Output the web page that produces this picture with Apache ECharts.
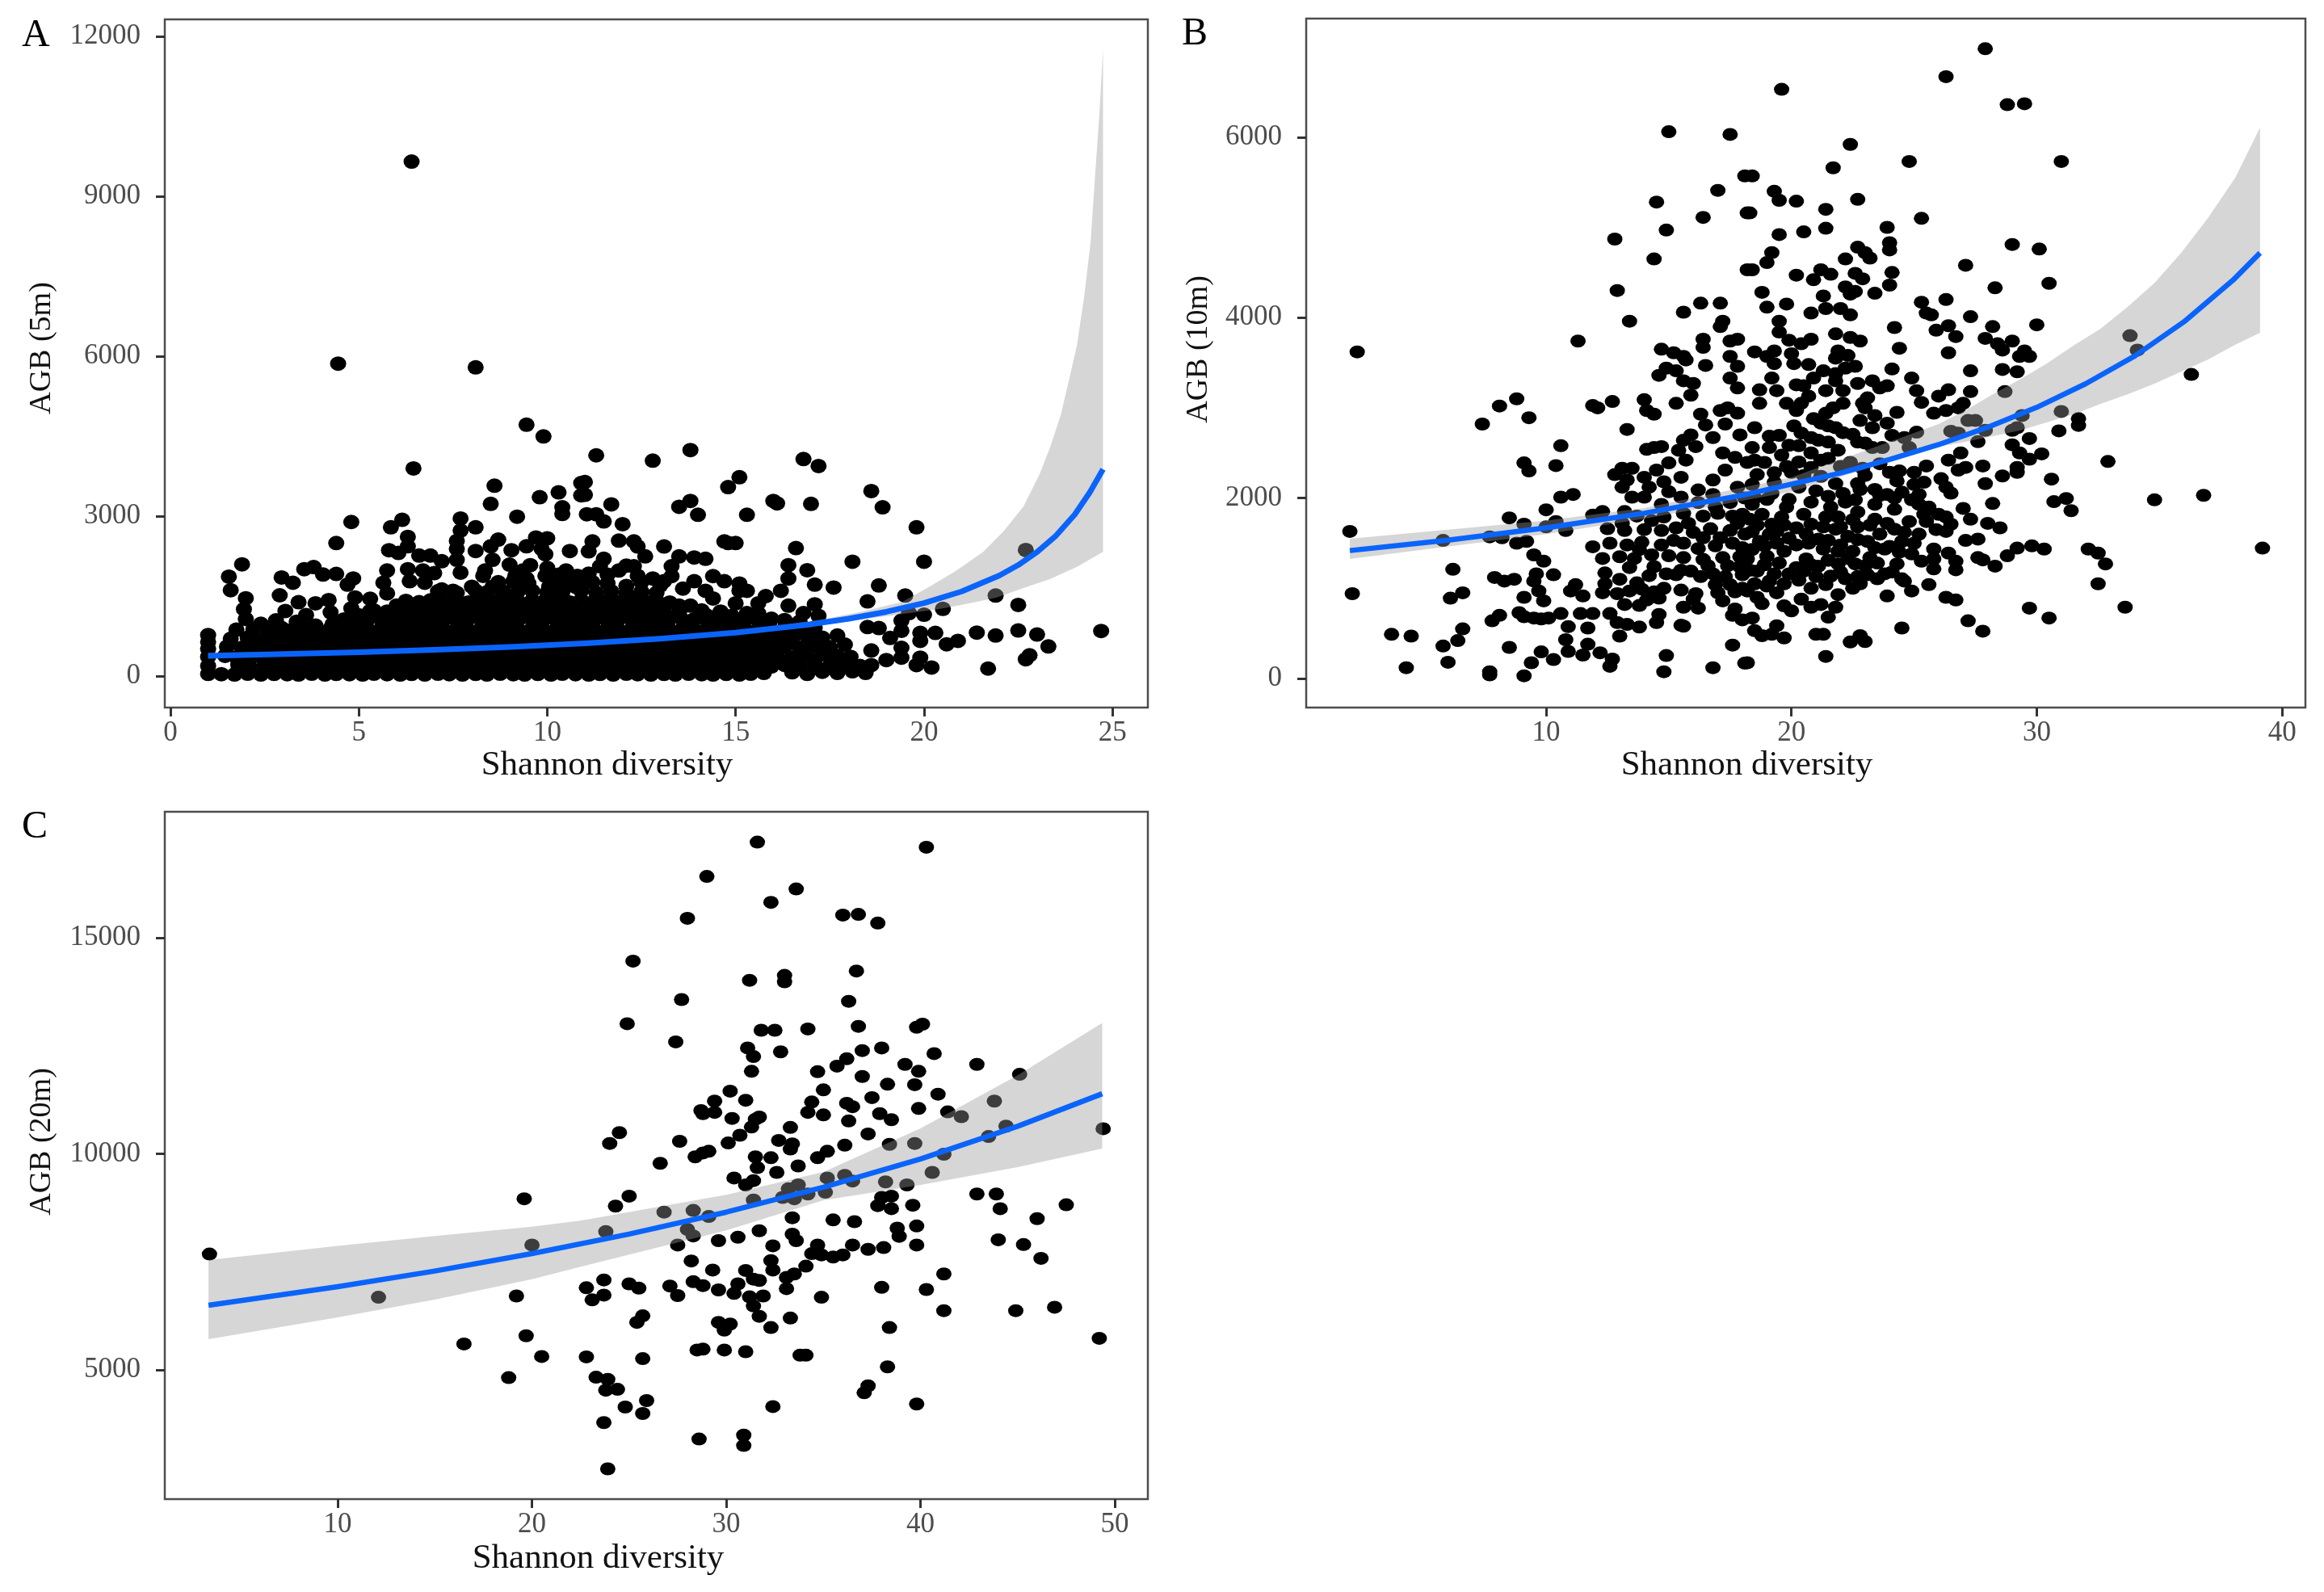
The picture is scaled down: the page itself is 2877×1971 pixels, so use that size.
<!DOCTYPE html>
<html><head><meta charset="utf-8">
<style>html,body{margin:0;padding:0;background:#fff}#c{width:2877px;height:1971px}</style>
<script src="https://cdn.jsdelivr.net/npm/echarts@6/dist/echarts.min.js"></script>
</head><body><div id="c"></div>
<script>
const xTitle='Shannon diversity';
const titleA='AGB (5m)',titleB='AGB (10m)',titleC='AGB (20m)';
const xTicksA=[0,5,10,15,20,25],yTicksA=[0,3000,6000,9000,12000];
const xTicksB=[10,20,30,40],yTicksB=[0,2000,4000,6000];
const xTicksC=[10,20,30,40,50],yTicksC=[5000,10000,15000];

const lineA=[[1,380],[3,412],[5,448],[7,493],[9,546],[11,613],[13,699],[15,813],[17,971],[18,1075],[19,1205],[20,1370],[21,1587],[22,1887],[22.5,2083],[23,2326],[23.5,2632],[24,3030],[24.4,3448],[24.75,3880]];
const upperA=[[1,440],[5,470],[10,605],[15,840],[17.28,1060],[18.35,1210],[19.42,1390],[20.13,1670],[20.84,1970],[21.57,2330],[22.13,2730],[22.64,3180],[23.07,3790],[23.35,4300],[23.63,4900],[23.85,5560],[24.06,6212],[24.25,7120],[24.42,8136],[24.55,9500],[24.65,10500],[24.75,11760]];
const lowerA=[[1,330],[5,430],[10,575],[15,790],[17.28,950],[18.35,1060],[19.77,1195],[20.5,1270],[21.2,1365],[21.91,1470],[22.64,1650],[23.35,1820],[24.06,2050],[24.75,2330]];
const lineB=[[2,1418],[6,1534],[10,1670],[14,1832],[18,2031],[22,2278],[24,2427],[26,2592],[28,2785],[30,3005],[32,3268],[34,3576],[36,3953],[38,4415],[39.1,4717]];
const upperB=[[2,1548],[10,1750],[14,1890],[20,2230],[26,2820],[27.1,2972],[28.2,3150],[29.3,3312],[30.4,3490],[31.5,3690],[32.6,3877],[33.7,4118],[34.8,4385],[35.88,4715],[36.97,5100],[38.09,5550],[39.1,6105]];
const lowerB=[[2,1325],[10,1600],[14,1770],[20,2070],[26,2570],[27.1,2623],[28.2,2686],[29.3,2748],[30.4,2838],[31.5,2927],[32.6,3043],[33.7,3150],[34.8,3268],[35.88,3400],[36.97,3535],[38.09,3700],[39.1,3832]];
const lineC=[[3.35,6495],[10,6925],[15,7287],[20,7692],[25,8143],[30,8650],[35,9225],[40,9881],[45,10638],[49.35,11390]];
const upperC=[[3.35,7540],[10,7870],[15,8100],[20,8315],[22.56,8458],[30,9050],[35,9580],[40,10590],[45,11820],[49.35,13030]];
const lowerC=[[3.35,5710],[10,6215],[15,6625],[20,7100],[22.56,7390],[30,8230],[35,8925],[40,9280],[45,9690],[49.35,10120]];

const pointsAOuter=[[6.4,9650],[4.45,5860],[8.1,5790],[6.45,3895],[9.45,4715],[9.9,4495],[11.3,4140],[12.8,4040],[13.8,4240],[16.8,4070],[17.2,3940],[15.1,3730],[14.8,3545],[11,3640],[11,3400],[11.7,3220],[11.3,3035],[11.5,2900],[11.05,3035],[12,2850],[13.5,3175],[13.8,3285],[14,3025],[15.3,3025],[16,3285],[16.1,3240],[17,3230],[18.6,3470],[18.9,3165],[19.8,2790],[20,2145],[18.1,2145],[16.6,2400],[16.4,2080],[16.9,1985],[16.4,1830],[17.1,1715],[17.6,1660],[18.8,1700],[18.5,1400],[19.5,1510],[22.7,2365],[21.9,1510],[22.5,1335],[20.5,1260],[20,1150],[19.6,1180],[19.4,1040],[19.4,850],[19.9,810],[20.3,810],[19.9,660],[20.6,595],[20.9,660],[21.4,815],[21.9,760],[22.5,855],[23,780],[23.3,555],[22.8,390],[22.7,315],[21.7,140],[24.7,845],[20.2,160],[19.8,205],[19.9,345],[19.4,530],[19.4,345],[19,300],[19.1,715],[18.8,900],[18.5,920],[18.6,480],[18.4,110],[18.6,205],
[14.8,2495],[14.7,2525],[15,2495],[13.1,2430],[11.2,2525],[11.1,2340],[11.9,2540],[12.3,2525],[12.4,2430],[12.6,2245],[11.5,2200],[11.4,2060],[12.3,2060],[13.5,2245],[13.9,2225],[14.2,2200],[13.3,2060],[13.3,1875],[13.9,1780],[13.6,1640],[13.1,1780],[14.4,1875],[14.7,1780],[15.1,1735],[15.3,1600],[15.1,1600],[16.2,1600],[15.8,1500],[15.6,1365],[17.1,1345],[14.2,1600],[14.4,1455],[15,1365],[15.3,1180],[15.6,1180],[16.4,1320],[16.8,1180],[17.2,1130],[13.8,1320],[13.5,1320],
[8.6,3570],[8.5,3230],[9.8,3355],[10.3,3445],[9.2,2990],[10.4,3165],[10.4,3040],[10.9,3620],[10.9,3390],[6.15,2930],[5.85,2790],[4.8,2890],[4.4,2495],[7.7,2955],[8.1,2790],[7.7,2730],[6.3,2610],[5.8,2360],[6.05,2310],[6.3,2435],[7.6,2535],[7.6,2385],[7.6,2180],[8.7,2560],[9.7,2600],[10,2585],[10.6,2345],[8.1,2345],[8.5,2435],[9.45,2435],[6.6,2260],[6.9,2260],[7.2,2155],[9.05,2360],[9.85,2385],[9.95,2285],[9,2090],[7.7,1940],[6.3,2005],[5.75,1980],[6.7,1980],[8.3,1880],[8.55,2180],[10,2030],[9.55,2080],[10.5,1980],[10.8,1880],[7,1930],[5.65,1750],[6.35,1780],[6.75,1750],[4.85,1830],[4.7,1715],[5.75,1550],[4.4,1915],[4.05,1905],[3.8,2045],[3.55,2005],[3.25,1750],[2.95,1850],[2.9,1515],[1.9,2095],[1.55,1865],[1.6,1610],[2,1460],[3.4,1385],[3.85,1365],[4.2,1425],[1.95,1255],[3.05,1220],[2.8,1045],[3.6,1145],[2,1070],[2.4,980],[1.75,870],[3.35,1020],[3.85,945],[4.3,970],[4.25,1195],[1,770],[1,640],[4.9,1475],[5.3,1450],[4.8,1270],[5.3,1220],[7.2,1625],[8,1675],[7.5,1600],[8.35,1980],[8.55,1675],[9.15,1880],[9.45,1830],[9.95,1880],[10.05,1675],[10.75,1675],[9.25,1625],[8.85,1575],[11.6,1900],[12.4,1880],[12.8,1830],[11.2,1760],[12.1,1690],
[7.1,1590],[7.6,1560],[8.1,1600],[8.4,1570],[8.8,1590],[9.2,1560],[9.6,1600],[10,1570],[8.7,1760],[9.1,1780],[9.5,1740],[10.2,1770],[10.5,1750],[11,1740],[11.6,1740],[12.5,1760],[13,1700],[9.35,1980],[10.3,1900],[11.1,1920],[11.9,1980],[12.1,2070],[13.5,1200],[14.3,1110]];

const pointsADense=[
[1,40],[1.35,35],[1.7,30],[2.05,45],[2.4,30],[2.75,40],[3.1,35],[3.4,30],[3.75,45],[4.1,30],[4.4,40],[4.75,35],[5.1,30],[5.4,45],[5.75,35],[6.1,30],[6.4,40],[6.75,30],[7.1,45],[7.4,35],[7.75,30],[8.1,40],[8.4,30],[8.75,45],[9.1,35],[9.4,30],[9.75,40],[10.1,30],[10.4,45],[10.75,35],[11.1,30],[11.4,40],[11.75,30],[12.1,45],[12.4,35],[12.75,30],[13.1,40],[13.4,30],[13.75,45],[14.1,35],[14.4,30],[14.75,40],[15.1,30],[15.4,45],[15.75,60],[16.5,70],[16.9,40],[17.3,80],[17.7,60],[18.1,90],[18.45,60],
[1,190],[1.8,210],[2.1,180],[2.5,200],[2.85,220],[3.2,185],[3.55,205],[3.9,175],[4.25,215],[4.6,190],[4.9,205],[5.25,180],[5.6,220],[5.95,190],[6.25,200],[6.6,175],[6.9,215],[7.25,190],[7.6,205],[7.9,180],[8.25,220],[8.6,190],[8.9,200],[9.25,175],[9.6,215],[9.9,190],[10.25,205],[10.6,180],[10.9,220],[11.25,190],[11.6,200],[11.9,175],[12.25,215],[12.6,190],[12.9,205],[13.25,180],[13.6,220],[13.9,190],[14.25,200],[14.6,175],[14.9,215],[15.25,190],[15.6,205],[15.95,180],[16.3,210],[16.7,190],[17.1,230],[17.5,200],[17.9,240],[18.3,190],
[1,360],[1.45,380],[1.75,350],[2.05,390],[2.4,360],[2.75,375],[3.1,345],[3.4,385],[3.75,360],[4.1,370],[4.4,350],[4.75,390],[5.1,360],[5.4,375],[5.75,345],[6.1,385],[6.4,360],[6.75,370],[7.1,350],[7.4,390],[7.75,360],[8.1,375],[8.4,345],[8.75,385],[9.1,360],[9.4,370],[9.75,350],[10.1,390],[10.4,360],[10.75,375],[11.1,345],[11.4,385],[11.75,360],[12.1,370],[12.4,350],[12.75,390],[13.1,360],[13.4,375],[13.75,345],[14.1,385],[14.4,360],[14.75,370],[15.1,350],[15.4,390],[15.75,360],[16.1,375],[16.5,345],[16.9,385],[17.3,410],[17.7,380],[18.05,360],
[1,510],[1.5,550],[1.9,530],[2.2,560],[2.55,520],[2.9,545],[3.25,530],[3.6,565],[3.9,525],[4.25,550],[4.6,535],[4.9,560],[5.25,520],[5.6,545],[5.95,530],[6.25,565],[6.6,525],[6.9,550],[7.25,535],[7.6,560],[7.9,520],[8.25,545],[8.6,530],[8.9,565],[9.25,525],[9.6,550],[9.9,535],[10.25,560],[10.6,520],[10.9,545],[11.25,530],[11.6,565],[11.9,525],[12.25,550],[12.6,535],[12.9,560],[13.25,520],[13.6,545],[13.9,530],[14.25,565],[14.6,525],[14.9,550],[15.25,535],[15.6,560],[15.95,520],[16.3,545],[16.7,530],[17.1,570],[17.5,540],[17.9,590],
[1.6,700],[2.05,720],[2.4,690],[2.75,730],[3.1,705],[3.4,715],[3.75,695],[4.1,735],[4.4,700],[4.75,720],[5.1,690],[5.4,730],[5.75,705],[6.1,715],[6.4,695],[6.75,735],[7.1,700],[7.4,720],[7.75,690],[8.1,730],[8.4,705],[8.75,715],[9.1,695],[9.4,735],[9.75,700],[10.1,720],[10.4,690],[10.75,730],[11.1,705],[11.4,715],[11.75,695],[12.1,735],[12.4,700],[12.75,720],[13.1,690],[13.4,730],[13.75,705],[14.1,715],[14.4,695],[14.75,735],[15.1,700],[15.4,720],[15.75,690],[16.1,730],[16.5,705],[16.9,740],[17.3,720],[17.7,760],
[2.2,880],[2.6,860],[2.95,900],[3.25,870],[3.6,890],[3.9,860],[4.25,895],[4.6,875],[4.9,885],[5.25,865],[5.6,900],[5.95,870],[6.25,890],[6.6,860],[6.9,895],[7.25,875],[7.6,885],[7.9,865],[8.25,900],[8.6,870],[8.9,890],[9.25,860],[9.6,895],[9.9,875],[10.25,885],[10.6,865],[10.9,900],[11.25,870],[11.6,890],[11.9,860],[12.25,895],[12.6,875],[12.9,885],[13.25,865],[13.6,900],[13.9,870],[14.25,890],[14.6,860],[14.9,895],[15.25,875],[15.6,885],[15.95,865],[16.3,900],[16.7,880],[17.1,910],
[4.6,1060],[4.9,1040],[5.25,1075],[5.6,1050],[5.95,1065],[6.25,1035],[6.6,1070],[6.9,1050],[7.25,1060],[7.6,1040],[7.9,1075],[8.25,1050],[8.6,1065],[8.9,1035],[9.25,1070],[9.6,1050],[9.9,1060],[10.25,1040],[10.6,1075],[10.9,1050],[11.25,1065],[11.6,1035],[11.9,1070],[12.25,1050],[12.6,1060],[12.9,1040],[13.25,1075],[13.6,1050],[13.9,1065],[14.25,1035],[14.6,1070],[14.9,1050],[15.25,1060],[15.6,1040],[15.95,1075],[16.3,1050],[16.7,1020],
[5.4,1230],[5.75,1210],[6.1,1245],[6.4,1220],[6.75,1235],[7.1,1205],[7.4,1240],[7.75,1215],[8.1,1230],[8.4,1210],[8.75,1245],[9.1,1220],[9.4,1235],[9.75,1205],[10.1,1240],[10.4,1215],[10.75,1230],[11.1,1210],[11.4,1245],[11.75,1220],[12.1,1235],[12.4,1205],[12.75,1240],[13.1,1215],[14.1,1230],[14.6,1210],
[6.25,1410],[6.6,1385],[6.9,1420],[7.25,1395],[7.6,1415],[7.9,1380],[8.25,1425],[8.6,1400],[8.9,1410],[9.25,1385],[9.6,1420],[9.9,1395],[10.25,1415],[10.6,1380],[10.9,1425],[11.25,1400],[11.6,1410],[11.9,1385],[12.25,1420],[12.6,1395],[12.9,1415],[13.25,1380],
[10.4,1570],[10.9,1600],[11.3,1560],[11.7,1590],[12.1,1550],[12.5,1585],[12.9,1560],
[2,280],[2.6,270],[3.3,290],[3.9,275],[4.5,285],[5.1,270],[5.8,290],[6.4,280],[7,265],[7.7,290],[8.3,275],[9,285],[9.5,270],[10.2,290],[10.8,280],[11.4,265],[12,290],[12.7,275],[13.3,285],[14,270],[14.6,290],[15.2,280],[15.9,265],[16.6,290],
[1.9,440],[2.5,460],[3.2,445],[3.8,455],[4.5,435],[5.2,460],[5.8,445],[6.5,450],[7.2,435],[7.8,460],[8.5,445],[9.2,455],[9.7,435],[10.5,460],[11.2,445],[11.9,455],[12.6,435],[13.2,460],[13.9,445],[14.6,450],[15.2,435],[15.9,460],[16.7,445],[17.5,450],
[2.3,630],[3,615],[3.7,640],[4.3,625],[5,635],[5.6,610],[6.3,640],[7,620],[7.6,630],[8.3,615],[9,640],[9.6,625],[10.3,635],[11,610],[11.6,640],[12.3,620],[13,630],[13.6,615],[14.3,640],[15,625],[15.6,635],[16.3,610],[17,640],
[2.8,795],[3.5,785],[4.2,805],[4.9,790],[5.5,800],[6.2,780],[6.9,810],[7.5,790],[8.2,800],[8.9,785],[9.5,805],[10.2,790],[10.8,800],[11.5,780],[12.2,810],[12.8,790],[13.5,800],[14.2,785],[14.8,805],[15.5,790],[16.2,800],[16.9,815],
[4.4,965],[5.1,950],[5.8,975],[6.4,960],[7.1,970],[7.8,945],[8.4,975],[9.1,955],[9.8,965],[10.4,950],[11.1,975],[11.8,960],[12.4,970],[13.1,945],[13.8,975],[14.4,955],[15.1,965],[15.8,950],[16.5,960],
[5,1140],[5.8,1150],[6.5,1130],[7.2,1155],[7.9,1140],[8.6,1150],[9.3,1130],[10,1155],[10.7,1140],[11.4,1150],[12.1,1130],[12.8,1155],[13.5,1140],[14.2,1150],[14.9,1130],
[6,1320],[6.8,1310],[7.5,1330],[8.3,1315],[9.1,1325],[9.8,1310],[10.6,1330],[11.4,1315],[12.2,1325],[13,1310]];

const pointsB=[[2,1630],[2.3,3620],[2.1,940],[3.7,490],[4.5,470],[4.3,120],[5.8,360],[6,180],[5.8,1530],[6.2,1210],[6.1,890],[6.6,950],[6.6,550],[6.4,420],[7.4,2820],[8.1,3020],[8.8,3100],[9.3,2890],[9.1,2390],[9.3,2300],[10.6,2580],[10.4,2360],[11.3,3740],[10.6,2010],[11.1,2040],[10,1870],[8.5,1780],[9.1,1710],[7.7,1570],[8.2,1560],[8.8,1500],[9.2,1520],[10,1680],[10.4,1740],[10.8,1640],[9.5,1370],[9.9,1300],[9.6,1160],[10.3,1150],[7.9,1120],[8.3,1080],[8.7,1100],[9.5,1080],[9.7,970],[11.2,1040],[11,970],[11.5,915],[9.1,900],[9.9,860],[8.9,730],[8.1,700],[7.8,640],[9.1,685],[9.5,670],[9.8,660],[10.1,670],[10.6,720],[10.9,575],[11.4,720],[11.9,720],[11.7,560],[12.6,720],[10.8,430],[11.7,380],[10.9,300],[11.5,260],[12.2,285],[8.5,345],[9.8,295],[9.4,175],[10.3,210],[12.7,215],[12.6,135],[7.7,75],[7.7,40],[9.1,30],[14.8,75],[14.9,255],[16.8,120],[17.6,370],[18.1,170],[11.9,1460],[11.9,3025],[12.1,3000],[12.7,3070],[14,3090],[14.1,2970],[14.4,2930],[13.3,2760],[12.8,4870],[12.9,4300],[13.4,3960],[14.4,4650],[14.5,5280],[14.9,4970],[15,6060],[17.5,6030],[17,5410],[16.4,5110],[15.6,4060],[16.3,4160],[17.1,4160],[18.1,5570],[18.2,5160],[18.2,4530],[14.7,3650],[15.2,3610],[15.6,3570],[15.7,3530],[16.4,3760],[16.4,3670],[16.5,3470],[14.6,3360],[14.9,3440],[15.3,3410],[15.6,3300],[16,3270],[15.9,3140],[15.3,3050],[17.2,3960],[17.1,3900],[17.5,3740],[17.8,3760],[17.5,3570],[17.8,3460],[17.5,3330],[17.8,3220],[16.3,2930],[17.1,2970],[17.4,3000],[17.3,2820],[17.8,2940],[17.9,2700],[15.9,2700],[15.6,2640],[16.1,2570],[16.8,2670],[16.5,2810],[15.4,2530],[14.7,2570],[14.4,2560],[14.1,2540],[17.2,2500],[17.7,2450],[15,2390],[15.7,2420],[14.5,2310],[13.1,2330],[13.5,2330],[12.8,2260],[13.3,2200],[13.1,2120],[14,2230],[15.5,2230],[14.2,2120],[13.5,2010],[14,2010],[14.8,2180],[15,2070],[15.5,2010],[16.2,2090],[16.8,2200],[17.3,2310],[17.8,2120],[16.8,2040],[14.7,1930],[13.2,1850],[12.3,1850],[11.9,1810],
[13.7,1800],[14.8,1790],[15.6,1830],[16.4,1800],[17,1830],[17.6,1800],[18,1820],[12.5,1660],[13.2,1640],[14,1650],[14.7,1640],[15.3,1670],[16,1620],[16.7,1660],[17.5,1640],[18.1,1600],[12.6,1500],[13.3,1480],[13.9,1510],[14.7,1480],[15.6,1500],[16.2,1440],[16.9,1470],[17.6,1500],[12.3,1330],[13,1350],[13.6,1330],[14.3,1370],[15,1360],[15.6,1340],[16.4,1320],[17.2,1340],[17.9,1350],[12.4,1170],[12.4,1050],[13,1100],[13.7,1060],[14.2,1140],[14.9,1160],[15.3,1150],[16.3,1130],[16.8,1160],[17.3,1130],[18,1150],[12.3,950],[12.9,940],[13.4,970],[13.9,990],[14.4,960],[14.8,1000],[15.5,980],[16.1,940],[17,950],[17.7,960],[13.2,820],[13.8,810],[14.1,870],[14.6,890],[15.6,790],[16,880],[17.2,860],[17.7,770],[12.9,620],[13.3,600],[13.8,570],[14.5,620],[14.6,710],[15.6,580],[17.6,700],[18,650],[13,470],[15.5,590],[16.2,780],
[27.9,6980],[26.3,6670],[19.6,6530],[28.8,6360],[29.5,6370],[22.4,5920],[18.4,5570],[24.8,5730],[31,5730],[21.7,5660],[19.3,5400],[19.5,5300],[20.2,5290],[22.7,5310],[21.4,5200],[18.3,5160],[25.3,5100],[19.5,4920],[20.5,4950],[21.4,4990],[23.9,5000],[24,4830],[24,4750],[29,4810],[30.1,4760],[22.7,4780],[23,4720],[23.2,4660],[22.2,4650],[19.2,4720],[19,4610],[18.4,4530],[27.1,4580],[20.2,4470],[21.2,4530],[21.6,4480],[20.9,4420],[22.6,4490],[22.9,4430],[24.1,4500],[24,4360],[28.3,4330],[30.5,4380],[22.2,4340],[22.4,4260],[22.6,4290],[23.4,4270],[18.8,4280],[21.3,4240],[26.3,4200],[25.3,4170],[19.8,4150],[19,4115],[21.4,4100],[22,4100],[20.8,4050],[22.4,4030],[25.5,4050],[25.7,4030],[27.3,4010],[19.5,3960],[24.2,3890],[26.4,3910],[25.9,3860],[28.2,3900],[30,3920],[19.5,3840],[20.8,3760],[21.8,3820],[26.7,3790],[27.9,3770],[19.9,3750],[20.4,3710],[22.4,3780],[22.8,3740],[28.4,3710],[29,3740],[28.6,3640],[33.8,3800],[34.1,3640],[24.4,3660],[18.5,3620],[19.3,3630],[20,3600],[29.5,3630],[26.4,3610],[29.7,3570],[29.3,3570],[21.9,3630],[22.3,3580],[21.8,3550],[19,3570],[20.1,3490],[19.3,3490],[22.6,3460],[24.1,3430],[21.3,3410],[21.8,3380],[27.3,3410],[28.6,3425],[29.2,3400],[36.3,3370],[22.2,3440],[24.9,3330],[20.9,3330],[23.3,3300],[19.2,3330],[22.7,3270],[23.9,3245],[23.6,3220],[20.2,3255],[20.5,3245],[19.4,3190],[18.7,3200],[25.1,3190],[26.4,3200],[27.3,3180],[28.7,3180],[22.1,3190],[21.4,3190],[20.7,3130],[26,3130],[23.1,3110],[18.7,3050],[25.3,3060],[20.4,3050],[27,3050],[26.8,3000],[21.7,3000],[23,3000],[24.3,2950],[25.8,2940],[26.3,2970],[31,2960],[29.4,2915],[31.7,2880],[31.7,2805],[27.5,2860],[20.2,2970],[21.4,2940],[22.8,2860],[23.4,2915],[23.9,2830],[21.2,2830],[20.1,2800],[18.5,2780],[20.4,2720],[30.9,2745],[29.2,2780],[29,2750],[27.2,2860],[27.9,2750],[26.5,2740],[26.8,2720],[25.1,2730],[21.5,2800],[22.1,2725],[22.5,2705],[23.3,2780],[24.1,2695],[24.6,2670],[19.5,2695],[19.1,2685],[21.1,2640],[20.8,2670],[29.7,2660],[27.6,2625],[18.4,2560],[29,2590],[29.3,2500],[30.2,2490],[29.7,2430],[26.9,2500],[21.9,2530],[23,2610],[24.8,2560],[19.9,2585],[19.1,2560],[19.6,2475],[20.8,2500],[23.3,2560],[26.4,2420],[32.9,2405],[29.2,2340],[27.8,2355],[27.1,2340],[26.8,2310],[25.5,2355],[18.2,2395],[18.9,2395],[20,2285],[20.8,2340],[22.4,2395],[24,2285],[25,2285],[29.2,2285],[28.6,2245],[26.1,2215],[24.3,2190],[25.4,2175],[30.6,2210],[27.9,2160],[26.3,2120],[21.8,2160],[22.7,2160],[25,2150],[19.3,2175],[18.4,2150],[26.5,2055],[22.8,2095],[23.4,2095],[24.5,2065],[23.9,2040],[25.2,2040],[34.8,1980],[36.8,2030],[31.2,1995],[30.7,1960],[28.2,1940],[31.4,1860],[23.4,1930],[25.2,1930],[27,1885],[25.6,1900],[22.2,1955],[21.6,1900],[19,1985],[19.9,1985],[20.8,1955],[18.4,1930],[22.7,1845],[24.2,1875],[26,1820],[26.3,1790],[27.3,1765],[28,1720],[28.5,1670],[26.5,1710],[24.8,1740],[25.5,1740],[23.4,1765],[21.9,1790],[21.4,1790],[20.5,1820],[19.6,1790],[18.8,1820],[18.3,1765],[26.3,1630],[24.2,1655],[22.7,1680],[21.8,1655],[20.8,1710],[19.2,1710],[18.4,1630],[27.6,1545],[27.1,1530],[25,1500],[23.6,1600],[22.3,1575],[19.9,1555],[19.4,1630],[18.7,1520],[21.1,1545],[23.1,1520],[24,1465],[24.5,1520],[29.8,1470],[29.2,1445],[30.3,1435],[32.1,1435],[32.5,1390],[32.8,1270],[39.2,1445],[25.8,1435],[25.8,1325],[26.4,1390],[26.7,1300],[26.7,1205],[25.8,1215],[28.8,1360],[27.6,1340],[27.8,1315],[28.3,1245],[21.3,1435],[21.9,1410],[22.5,1410],[23.2,1340],[23.8,1435],[20.6,1325],[19,1355],[19.7,1410],[18.2,1325],[24.3,1270],[21.1,1245],[21.9,1270],[22.6,1270],[18.6,1190],[19.3,1160],[19.9,1160],[20.5,1190],[21.6,1135],[22.2,1105],[23.8,1160],[23.5,1105],[24.5,1105],[24.6,1080],[25.6,1040],[19,1025],[20.8,1000],[22.5,1000],[24.9,970],[32.5,1050],[18.2,970],[23.9,915],[26.3,900],[26.7,870],[18.8,830],[19.7,805],[20,750],[20.8,790],[21.2,820],[21.8,790],[21.5,680],[29.7,780],[30.5,670],[33.6,790],[18.4,670],[27.2,640],[27.8,525],[24.5,560],[19.4,585],[18.5,530],[18.8,475],[19.2,490],[19.7,450],[21,490],[21.3,490],[22.4,405],[22.8,475],[23,410],[21.4,245],[18.2,175],
[18.5,2000],[19.2,2050],[19.8,1900],[20.3,2120],[21,2080],[21.5,2020],[22.1,2050],[22.6,1980],[23,2250],[23.6,2030],[24.2,2000],[24.9,1980],[25.4,1820],[25.9,1650],[25.2,1600],[24.6,1620],[23.9,1720],[23.2,1700],[22.5,1760],[22,1680],[21.3,1680],[20.6,1600],[20.2,1670],[19.7,1700],[19.1,1600],[18.6,1700],[18.9,1470],[19.4,1500],[20.2,1480],[20.7,1500],[21.5,1530],[22,1480],[22.7,1540],[23.4,1450],[24.4,1400],[24.9,1380],[25.3,1300],[23,1250],[23.5,1280],[22.3,1330],[21.5,1310],[20.8,1260],[20.2,1230],[19.5,1280],[18.9,1260],[18.4,1430],[18.3,1200],[19.1,1080],[19.7,1050],[20.3,1090],[21,1130],[21.4,1040],[22,1180],[22.7,1130],[23.1,1150],[24.1,1180],[21.9,930],[22.8,1050],[18.6,900],[19.4,950],[20.4,880],[18.5,1050],
[18.6,2260],[19.3,2280],[20.3,2400],[21.2,2240],[21.5,2440],[22,2350],[22.9,2330],[23.6,2380],[24.4,2300],[19.8,2350],[20.5,2250],[21.2,2420],[18.5,2420],[23.7,2560],[22.7,2620],[21.5,2620],[20.3,2580],[21.8,2780],[20.9,2880],[22.9,3050],[21.8,3300],[20.7,3480],[22.1,3050],[19.8,3050],
[16.2,1950],[16.9,1900],[17.5,1950],[18.1,2000],[15.8,1720],[16.4,1560],[17.1,1560],[17.8,1720],[18,1450],[17.4,1250],[16.6,1250],[15.9,1190],[17.9,1240],[15.2,1530],[14.3,1750],[13.1,1720],[13.8,1430],[14.4,1240],[15.5,1200],[16.9,1040],[17.5,1040],[18,1000],[13.4,1230]];

const pointsC=[[3.4,7680],[12.1,6680],[19.6,8960],[20,7890],[19.2,6710],[16.5,5600],[19.7,5790],[20.5,5310],[18.8,4820],
[31.6,17213],[40.3,17095],[29,16420],[33.6,16130],[32.3,15820],[28,15450],[36,15525],[36.8,15540],[37.8,15340],[25.2,14460],[36.7,14230],[33,14130],[33,13980],[31.2,14015],[36.3,13530],[27.7,13570],[24.9,13010],[36.8,12950],[40.1,13000],[39.8,12930],[31.8,12860],[32.5,12860],[34.2,12890],[27.4,12590],[31.1,12450],[31.4,12250],[32.8,12360],[37,12390],[38,12450],[40.7,12320],[42.9,12070],[39.2,12070],[36.2,12200],[35.7,12030],[34.7,11900],[31.3,11910],[39.9,11910],[45.1,11840],[37,11790],[38.3,11610],[39.7,11600],[35,11480],[30.2,11450],[40.9,11380],[37.5,11300],[29.4,11220],[31,11240],[34.4,11200],[43.8,11220],[36.2,11170],[36.5,11090],[39.9,11050],[28.7,11000],[28.8,10930],[29.4,10960],[34.2,10960],[35,10900],[37.9,10930],[41.4,10970],[42.1,10860],[30.3,10820],[31.7,10850],[31.5,10800],[38.5,10790],[36.3,10760],[31.3,10620],[33.3,10610],[24.5,10490],[44.4,10640],[43.5,10400],[37.3,10460],[30.7,10430],[49.4,10580],[27.6,10290],[24,10240],[30.1,10250],[32.7,10310],[33.4,10230],[33.3,10110],[36.1,10200],[38.4,10220],[39.7,10240],[29.1,10060],[28.8,10020],[28.4,9930],[35.2,10060],[31.5,9930],[32.3,9910],[34.7,9910],[41.2,9990],[26.6,9780],[31.6,9680],[33.7,9720],[32.6,9570],[40.6,9570],[30.4,9440],[36.1,9500],[35.2,9440],[31.4,9380],[31,9280],[36.5,9370],[38.2,9350],[39.3,9280],[33.7,9280],[33.2,9190],[35.1,9110],[34.2,9070],[42.9,9070],[43.9,9070],[25,9020],[38,8990],[38.5,9020],[32.9,8990],[33.5,8960],[31.4,8930],[39.6,8810],[37.8,8800],[38.5,8730],[24.3,8790],[47.5,8820],[44.1,8730],[26.8,8650],[28.3,8690],[29.1,8550],[33.4,8520],[35.5,8470],[36.6,8430],[46,8500],[39.8,8330],[38.8,8280],[28,8250],[31.7,8220],[23.8,8200],[33.4,8140],[38.9,8090],[28.3,8100],[30.6,8070],[29.6,7990],[33.6,7990],[44,8010],[27.5,7890],[32.4,7870],[36.5,7890],[39.8,7890],[45.3,7900],[34.7,7890],[37.3,7790],[38.1,7830],[34.4,7690],[34.9,7660],[36,7660],[35.5,7610],[46.2,7580],[28.2,7520],[32.3,7530],[34.1,7400],[32.4,7310],[29.3,7310],[31,7300],[33.5,7220],[33.1,7140],[41.2,7220],[23.7,7080],[31.4,7100],[31.7,7070],[25,6990],[28.3,7040],[28.8,6950],[30.6,6990],[25.5,6890],[27.1,6940],[22.8,6900],[38,6910],[40.3,6860],[29.6,6850],[33.1,6880],[30.4,6770],[27.5,6720],[23.7,6730],[23.1,6620],[31.2,6690],[31.9,6710],[34.9,6680],[31.4,6480],[41.2,6370],[44.9,6370],[46.9,6450],[25.7,6250],[25.4,6100],[31.7,6240],[33.3,6200],[29.6,6100],[30.2,6060],[29.9,5920],[32.3,5980],[38.4,5980],[49.2,5730],[28.5,5460],[28.8,5480],[29.9,5460],[31,5420],[33.8,5340],[34.1,5340],[22.8,5300],[25.7,5260],[38.3,5070],[23.3,4830],[23.9,4780],[23.8,4530],[24.4,4550],[37.3,4630],[37.1,4470],[25.9,4290],[24.8,4140],[32.4,4150],[39.8,4210],[25.7,3990],[23.7,3780],[28.6,3400],[30.9,3490],[30.9,3250],[23.9,2710]];

const FONT='"Liberation Serif","Times New Roman",serif';
const DOT='path://M0,8a9,8 0 1,0 18,0a9,8 0 1,0 -18,0Z';
const panels=[
 {grid:{left:204,top:24,width:1217,height:852},xr:[-0.15,25.94],yr:[-591,12318],xt:xTicksA,yt:yTicksA,name:titleA,pts:pointsAOuter.concat(pointsADense),line:lineA,lw:7,up:upperA,lo:lowerA,dot:[20,18],xShift:122,yShift:38,yGap:133,xGap:50},
 {grid:{left:1617,top:23,width:1237,height:853},xr:[0.22,40.95],yr:[-322,7314],xt:xTicksB,yt:yTicksB,name:titleB,pts:pointsB,line:lineB,lw:6.5,up:upperB,lo:lowerB,dot:[19,16],xShift:146,yShift:34,yGap:114,xGap:50},
 {grid:{left:204,top:1005,width:1217,height:851},xr:[1.1,51.7],yr:[2009,17916],xt:xTicksC,yt:yTicksC,name:titleC,pts:pointsC,line:lineC,lw:6.5,up:upperC,lo:lowerC,dot:[19,16],xShift:144,yShift:34,yGap:133,xGap:52}
];
const grids=[],xAxes=[],yAxes=[],series=[];
const plain=v=>String(v);
panels.forEach((p,i)=>{
 grids.push(Object.assign({show:true,backgroundColor:'#fff',borderColor:'#4d4d4d',borderWidth:2.5,containLabel:false},p.grid));
 xAxes.push({type:'value',gridIndex:i,min:p.xr[0],max:p.xr[1],name:xTitle,nameLocation:'middle',nameGap:p.xGap,
  nameTextStyle:{fontFamily:FONT,fontSize:43,color:'#111',padding:[0,p.xShift,0,0]},
  axisLine:{show:false,onZero:false},splitLine:{show:false},
  axisTick:{show:true,length:11,inside:false,lineStyle:{color:'#333',width:3},customValues:p.xt},
  axisLabel:{show:true,margin:14,fontFamily:FONT,fontSize:35,color:'#4d4d4d',customValues:p.xt,formatter:plain,showMinLabel:true,showMaxLabel:true,hideOverlap:false}});
 yAxes.push({type:'value',gridIndex:i,min:p.yr[0],max:p.yr[1],name:p.name,nameLocation:'middle',nameGap:p.yGap,nameRotate:90,
  nameTextStyle:{fontFamily:FONT,fontSize:38,color:'#111',padding:[0,0,0,p.yShift]},
  axisLine:{show:false,onZero:false},splitLine:{show:false},
  axisTick:{show:true,length:11,lineStyle:{color:'#333',width:3},customValues:p.yt},
  axisLabel:{show:true,margin:30,fontFamily:FONT,fontSize:35,color:'#4d4d4d',customValues:p.yt,formatter:plain,showMinLabel:true,showMaxLabel:true,hideOverlap:false}});
 series.push({type:'scatter',xAxisIndex:i,yAxisIndex:i,data:p.pts,symbol:DOT,symbolSize:p.dot,itemStyle:{color:'#000',opacity:1},silent:true,z:2,large:false});
 series.push({type:'custom',xAxisIndex:i,yAxisIndex:i,data:[p.up[0]],z:3,silent:true,clip:false,
  renderItem:(params,api)=>({type:'polygon',silent:true,
    shape:{points:p.up.map(d=>api.coord(d)).concat(p.lo.slice().reverse().map(d=>api.coord(d)))},
    style:{fill:'rgba(153,153,153,0.4)',stroke:null}})});
 series.push({type:'line',xAxisIndex:i,yAxisIndex:i,data:p.line,showSymbol:false,smooth:false,silent:true,z:4,
  lineStyle:{color:'#0a64fa',width:p.lw,cap:'butt',join:'round'}});
});
const labels=[['A',27,20],['B',1463,18],['C',27,1000]];
const graphic=labels.map(l=>({type:'text',left:l[1],top:l[2],z:10,style:{text:l[0],font:'48px '+FONT,fill:'#000'}}));
const chart=echarts.init(document.getElementById('c'),null,{renderer:'canvas',width:2877,height:1971});
chart.setOption({animation:false,backgroundColor:'#fff',grid:grids,xAxis:xAxes,yAxis:yAxes,series,graphic,tooltip:{show:false}});
</script></body></html>
